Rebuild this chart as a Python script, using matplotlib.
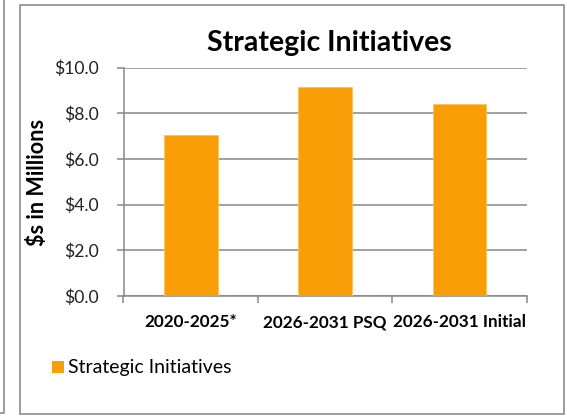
import matplotlib
matplotlib.use("Agg")
import matplotlib.pyplot as plt
from matplotlib.patches import Rectangle
from matplotlib.lines import Line2D
from matplotlib.ticker import FuncFormatter, FixedLocator

categories = ["2020-2025*", "2026-2031 PSQ", "2026-2031 Initial"]
values = [7.05, 9.14, 8.41]
series_name = "Strategic Initiatives"
title = "Strategic Initiatives"
ylabel = "$s in Millions"
yticks = [0, 2, 4, 6, 8, 10]

W, H = 567, 416
plt.rcParams['font.family'] = ['Lato', 'DejaVu Sans']
fig = plt.figure(figsize=(W/100, H/100), dpi=100)

def fx(x): return x / W
def fy(y): return 1 - y / H

gray = '#878787'
bar_color = '#F99E07'

ax = fig.add_axes([fx(123.5), fy(296), fx(526.7) - fx(123.5), fy(67.7) - fy(296)])
x = list(range(len(categories)))
ax.bar(x, values, width=0.4, color=bar_color, edgecolor='#FBC064', linewidth=0.6, zorder=3)
ax.set_xlim(-0.5, len(categories) - 0.5)
ax.set_ylim(0, 10)
ax.set_yticks(yticks)
ax.yaxis.set_major_formatter(FuncFormatter(lambda v, p: f"${v:.1f}"))
ax.grid(axis='y', color=gray, linewidth=1.1, zorder=0)
for s in ['top', 'right']:
    ax.spines[s].set_visible(False)
for s in ['left', 'bottom']:
    ax.spines[s].set_color(gray)
    ax.spines[s].set_linewidth(1.1)
ax.tick_params(axis='y', length=5, color=gray, width=1.1, labelsize=12.6, pad=13)
ax.xaxis.set_major_locator(FixedLocator([i - 0.5 for i in range(len(categories) + 1)]))
ax.xaxis.set_minor_locator(FixedLocator(x))
ax.tick_params(axis='x', which='major', length=5, color=gray, width=1.1, labelbottom=False)
ax.tick_params(axis='x', which='minor', length=0, pad=13)
ax.set_xticks(x, minor=True)
ax.set_xticklabels(categories, minor=True, fontsize=12.3, fontweight='bold')
for lab in ax.get_yticklabels():
    lab.set_color('#222222')

fig.text(fx(329), fy(43), title, ha='center', va='center', fontsize=20.5, fontweight='bold')
fig.text(fx(37), fy(182), ylabel, ha='center', va='center', rotation=90, fontsize=15.6, fontweight='bold')

# legend
fig.patches.append(Rectangle((fx(52), fy(373)), fx(64) - fx(52), fy(361) - fy(373),
                             transform=fig.transFigure, facecolor=bar_color, edgecolor='none'))
fig.text(fx(68.5), fy(367), series_name, ha='left', va='center', fontsize=14)

# chart frame
fig.patches.append(Rectangle((fx(19.5), fy(414)), fx(564) - fx(19.5), fy(5) - fy(414),
                             transform=fig.transFigure, facecolor='none', edgecolor='#8a8a8a', linewidth=1.2))
# partial neighbouring chart frame
fig.lines.append(Line2D([fx(4), fx(4), fx(-2)], [fy(-2), fy(413), fy(413)],
                        transform=fig.transFigure, color='#8a8a8a', linewidth=1.2))

fig.savefig("out.png", dpi=100)
